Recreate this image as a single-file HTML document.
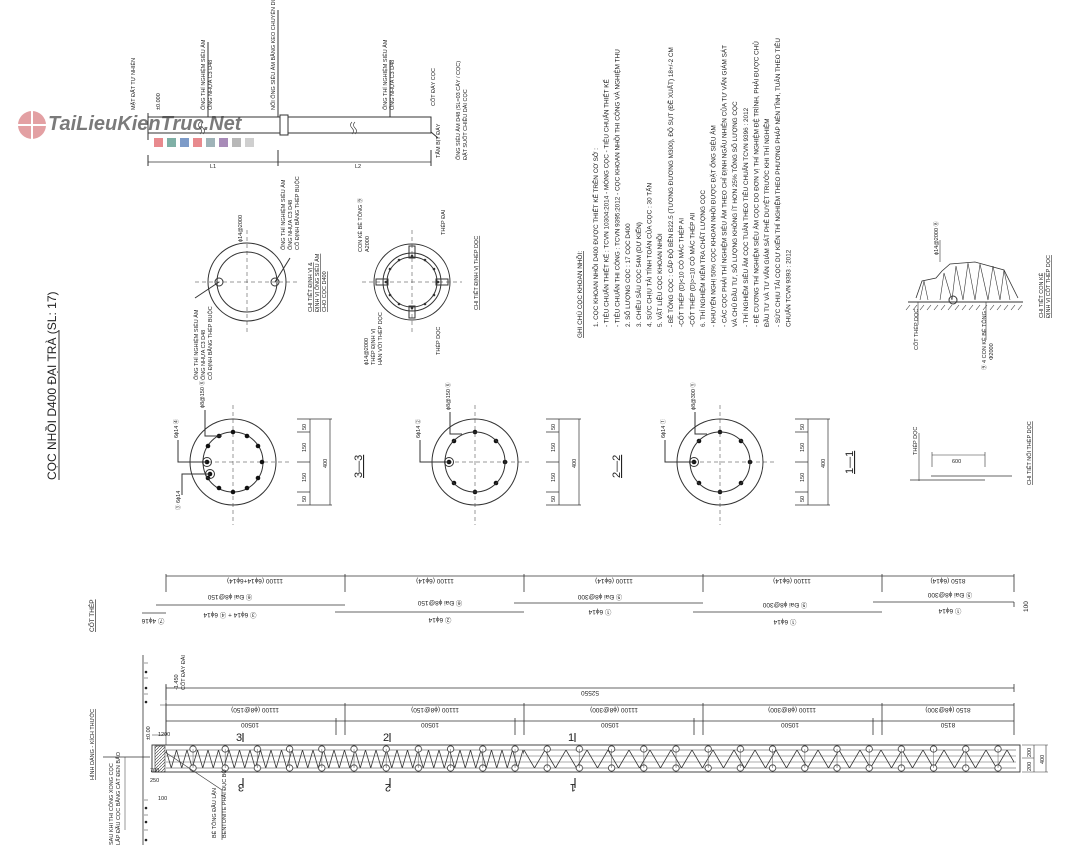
<!DOCTYPE html>
<html><head><meta charset="utf-8"><style>
html,body{margin:0;padding:0;background:#fff;}
svg{display:block;font-family:"Liberation Sans","Noto Sans CJK SC",sans-serif;}
text{fill:#222;}
</style></head><body>
<svg width="1080" height="860" viewBox="0 0 1080 860" xmlns="http://www.w3.org/2000/svg">
<defs>
<pattern id="zz1" x="166" y="750" width="10.5" height="18" patternUnits="userSpaceOnUse">
<path d="M0 0 L5.25 18 L10.5 0" fill="none" stroke="#333" stroke-width="0.8"/></pattern>
<pattern id="zz2" x="524" y="750" width="21" height="18" patternUnits="userSpaceOnUse">
<path d="M0 0 L10.5 18 L21 0" fill="none" stroke="#333" stroke-width="0.8"/></pattern>
<pattern id="cc" x="177" y="740" width="32.2" height="40" patternUnits="userSpaceOnUse">
<circle cx="16" cy="9" r="3.2" fill="#fff" stroke="#333" stroke-width="0.8"/>
<circle cx="16" cy="28" r="3.2" fill="#fff" stroke="#333" stroke-width="0.8"/>
<line x1="16" y1="9" x2="16" y2="28" stroke="#555" stroke-width="0.5"/></pattern>
<pattern id="hat" width="3" height="3" patternUnits="userSpaceOnUse">
<path d="M0 3 L3 0" stroke="#333" stroke-width="0.6"/></pattern>
</defs>
<g stroke="#333" fill="none" stroke-width="1">

<!-- watermark -->
<g opacity="0.5">
<circle cx="32" cy="125" r="14" fill="#c9444a" stroke="none"/>
<path d="M18 125 L46 125 M32 111 L32 139" stroke="#fff" stroke-width="2"/>
</g>
<text x="48" y="130" font-size="20" font-style="italic" font-weight="bold" fill="#d8b8ba" stroke="none" opacity="0.6">TaiLieuKienTruc.Net</text>

<!-- title -->
<g transform="translate(56,480) rotate(-90)"><text font-size="12" stroke="none">CỌC NHỒI D400 ĐẠI TRÀ (SL: 17)</text></g>
<line x1="59" y1="480" x2="59" y2="330"/>

<!-- top elevation -->
<rect x="148" y="117" width="283" height="16"/>
<line x1="148" y1="113" x2="148" y2="140"/>
<rect x="280" y="115" width="8" height="20" fill="#fff"/>
<line x1="148" y1="162" x2="431" y2="162" stroke-width="0.8"/>
<line x1="148" y1="155" x2="148" y2="166"/><line x1="278" y1="150" x2="278" y2="166"/><line x1="431" y1="150" x2="431" y2="166"/>
<path d="M200 122 q-3 3 0 6 q3 3 0 6 M203 122 q-3 3 0 6 q3 3 0 6 M352 122 q-3 3 0 6 q3 3 0 6 M355 122 q-3 3 0 6 q3 3 0 6" stroke-width="0.6"/>
<line x1="208" y1="117" x2="208" y2="42"/><line x1="278" y1="117" x2="278" y2="10"/><line x1="390" y1="117" x2="390" y2="60"/>
<line x1="431" y1="132" x2="438" y2="138"/>
<g stroke="none">
<rect x="154" y="138" width="9" height="9" fill="#e88a8e"/><rect x="167" y="138" width="9" height="9" fill="#7fb0a6"/><rect x="180" y="138" width="9" height="9" fill="#7d9bc8"/><rect x="193" y="138" width="9" height="9" fill="#e88a8e"/><rect x="206" y="138" width="9" height="9" fill="#9fb3b8"/><rect x="219" y="138" width="9" height="9" fill="#a88bb8"/><rect x="232" y="138" width="9" height="9" fill="#b8b8b8"/><rect x="245" y="138" width="9" height="9" fill="#cfcfcf"/>
</g>
<g stroke="none" font-size="5.5">
<text x="210" y="168">L1</text><text x="355" y="168">L2</text>
<g transform="translate(205,110) rotate(-90)"><text>ỐNG THÍ NGHIỆM SIÊU ÂM</text><text y="7">ỐNG NHỰA C3 D48</text></g>
<g transform="translate(275,110) rotate(-90)"><text>NỐI ỐNG SIÊU ÂM BẰNG KEO CHUYÊN DỤNG</text></g>
<g transform="translate(387,110) rotate(-90)"><text>ỐNG THÍ NGHIỆM SIÊU ÂM</text><text y="7">ỐNG NHỰA C3 D48</text></g>
<g transform="translate(160,110) rotate(-90)"><text>±0.000</text></g>
<g transform="translate(435,106) rotate(-90)"><text>CỐT ĐÁY CỌC</text></g>
<g transform="translate(440,158) rotate(-90)"><text>TẤM BỊT ĐÁY</text></g>
<g transform="translate(460,160) rotate(-90)"><text>ỐNG SIÊU ÂM D48 (SL=03 CÂY / CỌC)</text><text y="7">ĐẶT SUỐT CHIỀU DÀI CỌC</text></g>
<g transform="translate(135,110) rotate(-90)"><text>MẶT ĐẤT TỰ NHIÊN</text></g>
</g>

<!-- top row circles -->
<line x1="195" y1="282" x2="300" y2="282" stroke-dasharray="4 3" stroke-width="0.5"/>
<line x1="247" y1="230" x2="247" y2="335" stroke-dasharray="4 3" stroke-width="0.5"/>
<circle cx="247" cy="282" r="39"/><circle cx="247" cy="282" r="30"/>
<circle cx="219" cy="282" r="4"/><circle cx="275" cy="282" r="4"/>
<line x1="219" y1="282" x2="195" y2="298"/><line x1="275" y1="282" x2="290" y2="258"/>
<line x1="362" y1="282" x2="462" y2="282" stroke-dasharray="4 3" stroke-width="0.5"/>
<line x1="412" y1="230" x2="412" y2="335" stroke-dasharray="4 3" stroke-width="0.5"/>
<circle cx="412" cy="282" r="38"/><circle cx="412" cy="282" r="29"/><circle cx="412" cy="282" r="25"/>
<rect x="409" y="246" width="6" height="12"/><rect x="409" y="306" width="6" height="12"/>
<rect x="376" y="279" width="12" height="6"/><rect x="436" y="279" width="12" height="6"/>
<g fill="#333" stroke="none">
<circle cx="412" cy="256" r="1.3"/><circle cx="425" cy="260" r="1.3"/><circle cx="434" cy="269" r="1.3"/><circle cx="438" cy="282" r="1.3"/><circle cx="434" cy="295" r="1.3"/><circle cx="425" cy="304" r="1.3"/><circle cx="412" cy="308" r="1.3"/><circle cx="399" cy="304" r="1.3"/><circle cx="390" cy="295" r="1.3"/><circle cx="386" cy="282" r="1.3"/><circle cx="390" cy="269" r="1.3"/><circle cx="399" cy="260" r="1.3"/>
</g>
<g stroke="none" font-size="5.5">
<g transform="translate(242,242) rotate(-90)"><text>ϕ14@2000</text></g>
<g transform="translate(285,250) rotate(-90)"><text>ỐNG THÍ NGHIỆM SIÊU ÂM</text><text y="7">ỐNG NHỰA C3 D48</text><text y="14">CỐ ĐỊNH BẰNG THÉP BUỘC</text></g>
<g transform="translate(198,380) rotate(-90)"><text>ỐNG THÍ NGHIỆM SIÊU ÂM</text><text y="7">ỐNG NHỰA C3 D48</text><text y="14">CỐ ĐỊNH BẰNG THÉP BUỘC</text></g>
<g transform="translate(312,312) rotate(-90)"><text text-decoration="underline">CHI TIẾT ĐỊNH VỊ &amp;</text><text y="7" text-decoration="underline">ĐỊNH VỊ ỐNG SIÊU ÂM</text><text y="14" text-decoration="underline">CHO CỌC D400</text></g>
<g transform="translate(362,252) rotate(-90)"><text>CON KÊ BÊ TÔNG ⑨</text><text y="7">A2000</text></g>
<g transform="translate(445,235) rotate(-90)"><text>THÉP ĐAI</text></g>
<g transform="translate(440,355) rotate(-90)"><text>THÉP DỌC</text></g>
<g transform="translate(368,365) rotate(-90)"><text>ϕ14@2000</text><text y="7">THÉP ĐỊNH VỊ</text><text y="14">HÀN VỚI THÉP DỌC</text></g>
<g transform="translate(478,310) rotate(-90)"><text text-decoration="underline">CHI TIẾT ĐỊNH VỊ THÉP DỌC</text></g>
</g>

<!-- notes -->
<g stroke="none" font-size="6.4">
<g transform="translate(582,338) rotate(-90)"><text text-decoration="underline">GHI CHÚ CỌC KHOAN NHỒI:</text></g>
<g transform="translate(598,327) rotate(-90)">
<text y="0">1. CỌC KHOAN NHỒI D400 ĐƯỢC THIẾT KẾ TRÊN CƠ SỞ :</text>
<text y="10.7">- TIÊU CHUẨN THIẾT KẾ : TCVN 10304:2014 - MÓNG CỌC - TIÊU CHUẨN THIẾT KẾ</text>
<text y="21.4">- TIÊU CHUẨN THI CÔNG : TCVN 9395:2012 - CỌC KHOAN NHỒI THI CÔNG VÀ NGHIỆM THU</text>
<text y="32.1">2. SỐ LƯỢNG CỌC : 17 CỌC D400</text>
<text y="42.8">3. CHIỀU SÂU CỌC 54M (DỰ KIẾN)</text>
<text y="53.5">4. SỨC CHỊU TẢI TÍNH TOÁN CỦA CỌC : 30 TẤN</text>
<text y="64.2">5. VẬT LIỆU CỌC KHOAN NHỒI</text>
<text y="74.9">- BÊ TÔNG CỌC : CẤP ĐỘ BỀN B22.5 (TƯƠNG ĐƯƠNG M300), ĐỘ SỤT (ĐỀ XUẤT) 18+/-2 CM</text>
<text y="85.6">-CỐT THÉP (D)&lt;10 CÓ MÁC THÉP AI</text>
<text y="96.3">-CỐT THÉP (D)&gt;=10 CÓ MÁC THÉP AII</text>
<text y="107">6. THÍ NGHIỆM KIỂM TRA CHẤT LƯỢNG CỌC</text>
<text y="117.7">- KHUYẾN NGHỊ 50% CỌC KHOAN NHỒI ĐƯỢC ĐẶT ỐNG SIÊU ÂM</text>
<text y="128.4">- CÁC CỌC PHẢI THÍ NGHIỆM SIÊU ÂM THEO CHỈ ĐỊNH NGẪU NHIÊN CỦA TƯ VẤN GIÁM SÁT</text>
<text y="139.1">VÀ CHỦ ĐẦU TƯ, SỐ LƯỢNG KHÔNG ÍT HƠN 25% TỔNG SỐ LƯỢNG CỌC</text>
<text y="149.8">- THÍ NGHIỆM SIÊU ÂM CỌC TUÂN THEO TIÊU CHUẨN TCVN 9396 : 2012</text>
<text y="160.5">- ĐỀ CƯƠNG THÍ NGHIỆM SIÊU ÂM CỌC DO ĐƠN VỊ THÍ NGHIỆM ĐỆ TRÌNH, PHẢI ĐƯỢC CHỦ</text>
<text y="171.2">ĐẦU TƯ VÀ TƯ VẤN GIÁM SÁT PHÊ DUYỆT TRƯỚC KHI THÍ NGHIỆM</text>
<text y="181.9">- SỨC CHỊU TẢI CỌC DỰ KIẾN THÍ NGHIỆM THEO PHƯƠNG PHÁP NÉN TĨNH, TUÂN THEO TIÊU</text>
<text y="192.6">CHUẨN TCVN 9393 : 2012</text>
</g></g>

<!-- bell detail -->
<line x1="908" y1="302" x2="1023" y2="302"/>
<path d="M910 305 l-4 5 M917 305 l-4 5 M924 305 l-4 5 M931 305 l-4 5 M938 305 l-4 5 M945 305 l-4 5 M952 305 l-4 5 M959 305 l-4 5 M966 305 l-4 5 M973 305 l-4 5 M980 305 l-4 5 M987 305 l-4 5 M994 305 l-4 5 M1001 305 l-4 5 M1008 305 l-4 5 M1015 305 l-4 5 M1022 305 l-4 5" stroke-width="0.6"/>
<path d="M916 298 L922 281 L936 278 L942 271 L950 264 L975 262 L1004 270 L1018 298" stroke-width="0.8"/>
<path d="M920 300 L924 281 L928 300 M940 300 L944 273 L952 300 L956 266 L963 300 L968 263 L975 300 L980 264 L988 300 L993 266 L1000 300 L1004 270 L1010 300" stroke-width="0.6"/>
<circle cx="953" cy="300" r="4"/>
<line x1="918" y1="302" x2="918" y2="325" stroke-width="0.6"/><line x1="986" y1="302" x2="986" y2="340" stroke-width="0.6"/>
<line x1="940" y1="262" x2="940" y2="240" stroke-width="0.6"/>
<g stroke="none" font-size="5.5">
<g transform="translate(938,255) rotate(-90)"><text>ϕ14@2000 ⑧</text></g>
<g transform="translate(918,350) rotate(-90)"><text>CỐT THÉP DỌC</text></g>
<g transform="translate(986,370) rotate(-90)"><text>⑨ 4 CON KÊ BÊ TÔNG</text><text y="7" x="10">Φ2000</text></g>
<g transform="translate(1043,318) rotate(-90)"><text text-decoration="underline">CHI TIẾT CON KÊ</text><text y="7" text-decoration="underline">ĐỊNH VỊ CỐT THÉP DỌC</text></g>
<g transform="translate(917,455) rotate(-90)"><text>THÉP DỌC</text></g>
<g transform="translate(1031,485) rotate(-90)"><text text-decoration="underline">CHI TIẾT NỐI THÉP DỌC</text></g>
<text x="952" y="463">600</text>
</g>
<line x1="919" y1="433" x2="919" y2="481" stroke-width="0.6"/>
<line x1="910" y1="480" x2="985" y2="480" stroke-width="0.8"/><line x1="931" y1="476" x2="1012" y2="476" stroke-width="0.8"/>
<line x1="932" y1="455" x2="985" y2="455" stroke-width="0.6"/><line x1="932" y1="452" x2="932" y2="467" stroke-width="0.6"/><line x1="985" y1="452" x2="985" y2="467" stroke-width="0.6"/>

<!-- middle sections -->
<line x1="180" y1="462" x2="290" y2="462" stroke-dasharray="4 3" stroke-width="0.5"/>
<line x1="233" y1="405" x2="233" y2="525" stroke-dasharray="4 3" stroke-width="0.5"/>
<circle cx="233" cy="462" r="43"/><circle cx="233" cy="462" r="30"/>
<g fill="#111" stroke="none">
<circle cx="233" cy="432" r="2.3"/><circle cx="247" cy="436" r="2.3"/><circle cx="258" cy="446" r="2.3"/><circle cx="262" cy="462" r="2.3"/><circle cx="258" cy="478" r="2.3"/><circle cx="247" cy="488" r="2.3"/><circle cx="233" cy="492" r="2.3"/><circle cx="219" cy="488" r="2.3"/><circle cx="208" cy="478" r="2.3"/><circle cx="208" cy="446" r="2.3"/><circle cx="219" cy="436" r="2.3"/>
<circle cx="207" cy="462" r="2.3"/><circle cx="210" cy="474" r="2.3"/>
<circle cx="475" cy="432" r="2.3"/><circle cx="505" cy="462" r="2.3"/><circle cx="475" cy="492" r="2.3"/><circle cx="454" cy="441" r="2.3"/><circle cx="496" cy="441" r="2.3"/><circle cx="496" cy="483" r="2.3"/><circle cx="454" cy="483" r="2.3"/><circle cx="449" cy="462" r="2.3"/>
<circle cx="720" cy="432" r="2.3"/><circle cx="750" cy="462" r="2.3"/><circle cx="720" cy="492" r="2.3"/><circle cx="699" cy="441" r="2.3"/><circle cx="741" cy="441" r="2.3"/><circle cx="741" cy="483" r="2.3"/><circle cx="699" cy="483" r="2.3"/><circle cx="694" cy="462" r="2.3"/>
</g>
<circle cx="207" cy="462" r="4.5"/><circle cx="210" cy="474" r="4.5"/>
<path d="M207 462 L178 462 L178 440 M210 474 L182 474 L182 495 M222 436 L205 436 L205 410"/>
<line x1="420" y1="462" x2="530" y2="462" stroke-dasharray="4 3" stroke-width="0.5"/>
<line x1="475" y1="405" x2="475" y2="525" stroke-dasharray="4 3" stroke-width="0.5"/>
<circle cx="475" cy="462" r="43"/><circle cx="475" cy="462" r="30"/><circle cx="449" cy="462" r="4.5"/>
<path d="M449 462 L420 462 L420 440 M462 434 L450 434 L450 412"/>
<line x1="665" y1="462" x2="775" y2="462" stroke-dasharray="4 3" stroke-width="0.5"/>
<line x1="720" y1="405" x2="720" y2="525" stroke-dasharray="4 3" stroke-width="0.5"/>
<circle cx="720" cy="462" r="43"/><circle cx="720" cy="462" r="30"/><circle cx="694" cy="462" r="4.5"/>
<path d="M694 462 L665 462 L665 440 M707 434 L695 434 L695 412"/>
<g stroke-width="0.7">
<path d="M297 419 L332 419 M297 432 L310 432 M297 462 L310 462 M297 492 L310 492 M297 505 L332 505 M310 419 L310 505 M330 419 L330 505"/>
<path d="M546 419 L581 419 M546 432 L559 432 M546 462 L559 462 M546 492 L559 492 M546 505 L581 505 M559 419 L559 505 M579 419 L579 505"/>
<path d="M795 419 L830 419 M795 432 L808 432 M795 462 L808 462 M795 492 L808 492 M795 505 L830 505 M808 419 L808 505 M828 419 L828 505"/>
</g>
<g stroke="none" font-size="5.5">
<g transform="translate(306,430) rotate(-90)"><text>50</text></g><g transform="translate(306,452) rotate(-90)"><text>150</text></g><g transform="translate(306,482) rotate(-90)"><text>150</text></g><g transform="translate(306,502) rotate(-90)"><text>50</text></g><g transform="translate(327,468) rotate(-90)"><text>400</text></g>
<g transform="translate(555,430) rotate(-90)"><text>50</text></g><g transform="translate(555,452) rotate(-90)"><text>150</text></g><g transform="translate(555,482) rotate(-90)"><text>150</text></g><g transform="translate(555,502) rotate(-90)"><text>50</text></g><g transform="translate(576,468) rotate(-90)"><text>400</text></g>
<g transform="translate(804,430) rotate(-90)"><text>50</text></g><g transform="translate(804,452) rotate(-90)"><text>150</text></g><g transform="translate(804,482) rotate(-90)"><text>150</text></g><g transform="translate(804,502) rotate(-90)"><text>50</text></g><g transform="translate(825,468) rotate(-90)"><text>400</text></g>
<g transform="translate(178,438) rotate(-90)"><text>6ϕ14 ④</text></g><g transform="translate(180,510) rotate(-90)"><text>③ 6ϕ14</text></g><g transform="translate(204,408) rotate(-90)"><text>ϕ8@150 ⑥</text></g>
<g transform="translate(420,438) rotate(-90)"><text>6ϕ14 ②</text></g><g transform="translate(450,410) rotate(-90)"><text>ϕ8@150 ⑥</text></g>
<g transform="translate(665,438) rotate(-90)"><text>6ϕ14 ①</text></g><g transform="translate(695,410) rotate(-90)"><text>ϕ8@300 ⑤</text></g>
</g>
<g stroke="none" font-size="11">
<g transform="translate(362,478) rotate(-90)"><text text-decoration="underline">3—3</text></g>
<g transform="translate(620,478) rotate(-90)"><text text-decoration="underline">2—2</text></g>
<g transform="translate(853,474) rotate(-90)"><text text-decoration="underline">1—1</text></g>
</g>

<!-- bottom: rebar lengths -->
<g stroke-width="0.8">
<line x1="166" y1="576" x2="1014" y2="576"/>
<path d="M166 574 L166 592 M345 574 L345 592 M524 574 L524 592 M703 574 L703 592 M882 574 L882 592 M1014 574 L1014 592"/>
<line x1="156" y1="605" x2="345" y2="605"/><line x1="335" y1="612" x2="524" y2="612"/>
<line x1="514" y1="603" x2="703" y2="603"/><line x1="693" y1="612" x2="882" y2="612"/>
<line x1="873" y1="602" x2="1014" y2="602"/><line x1="1014" y1="602" x2="1014" y2="607"/>
<line x1="142" y1="613" x2="166" y2="613"/>
<line x1="166" y1="688" x2="1014" y2="688"/><path d="M166 684 L166 700 M1014 684 L1014 692"/>
<line x1="166" y1="705" x2="1014" y2="705"/><line x1="166" y1="721" x2="1014" y2="721"/>
<path d="M166 703 L166 735 M345 703 L345 735 M524 703 L524 735 M703 703 L703 735 M882 703 L882 735 M1014 703 L1014 735 M336 718 L336 735 M515 718 L515 735 M694 718 L694 735 M873 718 L873 735"/>
<path d="M243 733 L243 742 M390 733 L390 742 M575 733 L575 742 M243 778 L243 788 M390 778 L390 788 M575 778 L575 788" stroke-width="1.2"/>
</g>
<g stroke="none" font-size="6.5">
<text x="255" y="583" transform="rotate(180 255 581)" text-anchor="middle">11100 (6ϕ14+6ϕ14)</text>
<text x="435" y="583" transform="rotate(180 435 581)" text-anchor="middle">11100 (6ϕ14)</text>
<text x="614" y="583" transform="rotate(180 614 581)" text-anchor="middle">11100 (6ϕ14)</text>
<text x="792" y="583" transform="rotate(180 792 581)" text-anchor="middle">11100 (6ϕ14)</text>
<text x="948" y="583" transform="rotate(180 948 581)" text-anchor="middle">8150 (6ϕ14)</text>
<text x="230" y="599" transform="rotate(180 230 597)" text-anchor="middle">⑥ Đai ϕ8@150</text>
<text x="440" y="605" transform="rotate(180 440 603)" text-anchor="middle">⑥ Đai ϕ8@150</text>
<text x="600" y="599" transform="rotate(180 600 597)" text-anchor="middle">⑤ Đai ϕ8@300</text>
<text x="785" y="607" transform="rotate(180 785 605)" text-anchor="middle">⑤ Đai ϕ8@300</text>
<text x="950" y="597" transform="rotate(180 950 595)" text-anchor="middle">⑤ Đai ϕ8@300</text>
<text x="230" y="617" transform="rotate(180 230 615)" text-anchor="middle">③ 6ϕ14  +  ④ 6ϕ14</text>
<text x="440" y="622" transform="rotate(180 440 620)" text-anchor="middle">② 6ϕ14</text>
<text x="600" y="614" transform="rotate(180 600 612)" text-anchor="middle">① 6ϕ14</text>
<text x="785" y="624" transform="rotate(180 785 622)" text-anchor="middle">① 6ϕ14</text>
<text x="950" y="613" transform="rotate(180 950 611)" text-anchor="middle">① 6ϕ14</text>
<text x="153" y="623" transform="rotate(180 153 621)" text-anchor="middle">⑦ 4ϕ16</text>
<text x="590" y="695" transform="rotate(180 590 693)" text-anchor="middle">52550</text>
<text x="255" y="712" transform="rotate(180 255 710)" text-anchor="middle">11100 (ϕ8@150)</text>
<text x="435" y="712" transform="rotate(180 435 710)" text-anchor="middle">11100 (ϕ8@150)</text>
<text x="614" y="712" transform="rotate(180 614 710)" text-anchor="middle">11100 (ϕ8@300)</text>
<text x="792" y="712" transform="rotate(180 792 710)" text-anchor="middle">11100 (ϕ8@300)</text>
<text x="948" y="712" transform="rotate(180 948 710)" text-anchor="middle">8150 (ϕ8@300)</text>
<text x="250" y="727" transform="rotate(180 250 725)" text-anchor="middle">10500</text>
<text x="430" y="727" transform="rotate(180 430 725)" text-anchor="middle">10500</text>
<text x="610" y="727" transform="rotate(180 610 725)" text-anchor="middle">10500</text>
<text x="790" y="727" transform="rotate(180 790 725)" text-anchor="middle">10500</text>
<text x="948" y="727" transform="rotate(180 948 725)" text-anchor="middle">8150</text>
<g transform="translate(94,632) rotate(-90)"><text text-decoration="underline">CỐT THÉP</text></g>
<g transform="translate(1028,612) rotate(-90)"><text>100</text></g>
</g>
<g stroke="none" font-size="11">
<text x="236" y="741">3</text><text x="383" y="741">2</text><text x="568" y="741">1</text>
<text x="236" y="796" transform="rotate(180 240 790)">3</text><text x="383" y="796" transform="rotate(180 387 790)">2</text><text x="568" y="796" transform="rotate(180 572 790)">1</text>
</g>

<!-- pile body -->
<rect x="152" y="745" width="868" height="27" stroke-width="0.9"/>
<line x1="166" y1="750" x2="1016" y2="750" stroke-width="0.6"/>
<line x1="166" y1="768" x2="1016" y2="768" stroke-width="0.6"/>
<line x1="166" y1="756" x2="1016" y2="756" stroke-width="0.4"/>
<line x1="166" y1="762" x2="1016" y2="762" stroke-width="0.4"/>
<rect x="166" y="750" width="358" height="18" fill="url(#zz1)" stroke="none"/>
<rect x="524" y="750" width="490" height="18" fill="url(#zz2)" stroke="none"/>
<rect x="177" y="740" width="837" height="40" fill="url(#cc)" stroke="none"/>
<rect x="155" y="746" width="10" height="26" fill="url(#hat)" stroke-width="0.6"/>
<line x1="165" y1="752" x2="222" y2="790" stroke-width="0.6"/><line x1="222" y1="790" x2="222" y2="840" stroke-width="0.6"/>
<path d="M1022 745 L1048 745 M1022 758 L1034 758 M1022 772 L1048 772 M1034 745 L1034 772 M1046 745 L1046 772" stroke-width="0.6"/>
<g stroke="none" font-size="5.5">
<g transform="translate(1031,757) rotate(-90)"><text>200</text></g><g transform="translate(1031,771) rotate(-90)"><text>200</text></g><g transform="translate(1044,764) rotate(-90)"><text>400</text></g>
<g transform="translate(216,838) rotate(-90)"><text>BÊ TÔNG ĐẦU LẬN</text></g><g transform="translate(226,838) rotate(-90)"><text>BENTONITE PHẢI ĐỤC BỎ</text></g>
<g transform="translate(150,740) rotate(-90)"><text>±0.00</text></g>
<g transform="translate(178,690) rotate(-90)"><text>-1.450</text><text y="7">CỐT ĐÁY ĐÀI</text></g>
<text x="158" y="736">1200</text><text x="150" y="772">700</text><text x="150" y="782">250</text><text x="158" y="800">100</text>
<g transform="translate(94,780) rotate(-90)"><text text-decoration="underline">HÌNH DÁNG - KÍCH THƯỚC</text></g>
<g transform="translate(113,845) rotate(-90)"><text>SAU KHI THI CÔNG XONG CỌC</text><text y="7">LẤP ĐẦU CỌC BẰNG CÁT ĐEN BẢO</text></g>
</g>
<!-- left ground line -->
<line x1="143" y1="655" x2="143" y2="845" stroke-width="0.8"/>
<line x1="103" y1="757" x2="150" y2="757" stroke-width="0.8"/>
<line x1="125" y1="757" x2="125" y2="830" stroke-width="0.5"/>
<path d="M166 685 L166 745 M152 735 L166 735 M160 705 L166 705" stroke-width="0.6"/>
<g fill="#222" stroke="none">
<circle cx="146" cy="672" r="1.3"/><circle cx="146" cy="688" r="1.3"/><circle cx="146" cy="702" r="1.3"/>
<circle cx="146" cy="808" r="1.3"/><circle cx="146" cy="822" r="1.3"/><circle cx="146" cy="840" r="1.3"/>
</g>
<path d="M144 663 l4 0 M144 678 l4 0 M144 694 l4 0 M144 800 l4 0 M144 815 l4 0 M144 830 l4 0" stroke-width="0.6"/>
</g>
</svg>
</body></html>
